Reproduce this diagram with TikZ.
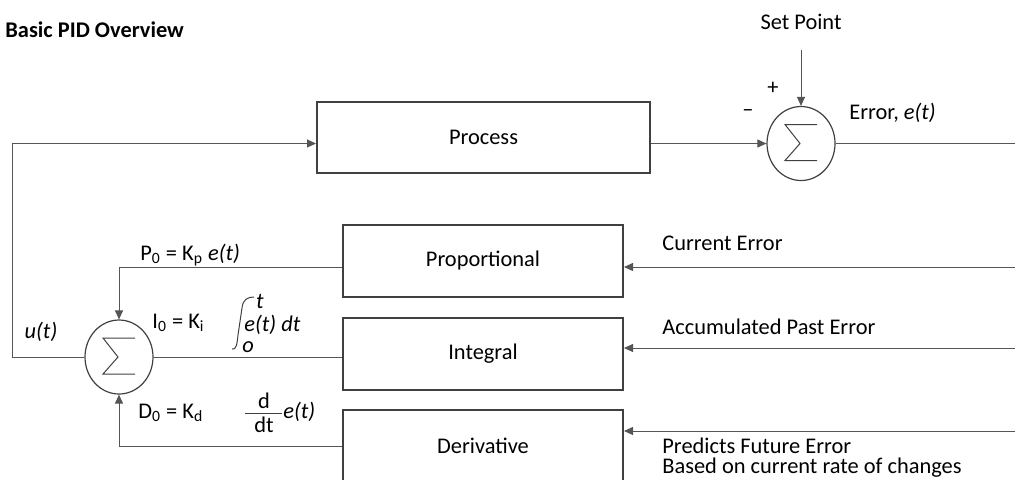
\documentclass[tikz,border=0pt]{standalone}
\usepackage{fontspec}
\setmainfont{Carlito}
\usetikzlibrary{calc, arrows.meta, shapes.geometric}
\definecolor{boxFrame}{HTML}{404040}
\definecolor{wire}{HTML}{555555}

\tikzset{
    txt/.style={font=\fontsize{11.2}{13}\selectfont, inner sep=0pt},
    block/.style={draw=boxFrame, line width=1pt, minimum width=#1, minimum height=36pt, txt},
    summer/.style={draw=boxFrame, line width=0.6pt, ellipse, minimum width=34pt, minimum height=37pt, inner sep=0pt},
    conn/.style={draw=wire, line width=0.5pt},
    arr/.style={conn, -{Triangle[length=4.5pt, width=4pt]}},
}

\newcommand{\sigmamark}[1]{%
    \draw[boxFrame, line width=0.5pt] ($(#1)+(16,-19)$) -- ($(#1)+(-16,-19)$) -- ($(#1)+(-1,0)$)
        -- ($(#1)+(-16,17)$) -- ($(#1)+(16,17)$);}

\begin{document}
\begin{tikzpicture}[x=0.5pt, y=-0.5pt]
    \useasboundingbox (0,0) rectangle (1015,479);

    \node[txt, font=\fontsize{11.2}{13}\selectfont\bfseries, anchor=west] (title) at (5,30) {Basic PID Overview};

    % blocks
    \node[block=166.5pt, minimum height=35.5pt] (proc) at (483.5,137.5) {Process};
    \node[block=140pt] (prop) at (483,261) {Proportional};
    \node[block=140pt] (intg) at (483,354) {Integral};
    \node[block=140pt] (deriv) at (483,446) {Derivative};

    % summing junctions
    \node[summer] (esum) at (801,143.5) {};
    \node[summer] (usum) at (119,357) {};
    \foreach \s in {esum, usum} {\sigmamark{\s}}

    % loose ends
    \coordinate (spin) at (801,50);
    \coordinate (eout) at (1015,143.5);
    \coordinate (fb) at (12,143.5);
    \coordinate (pin) at (1015,267);
    \coordinate (iin) at (1015,348);
    \coordinate (din) at (1015,431);

    % connectors
    \draw[arr] (usum.west) -| (fb) -- ($(proc.west)+(0,6)$);
    \draw[arr] ($(proc.east)+(0,6)$) -- (esum.west);
    \draw[arr] (spin) -- (esum.north);
    \draw[conn] (esum.east) -- (eout);
    \draw[arr] ($(prop.west)+(0,6)$) -| (usum.north);
    \draw[conn] (usum.east) -- (usum.east -| intg.west);
    \draw[arr] (deriv.west) -| (usum.south);
    \draw[arr] (pin) -- (pin -| prop.east);
    \draw[arr] (iin) -- (iin -| intg.east);
    \draw[arr] (din) -- (din -| deriv.east);

    % labels
    \node[txt] (sptxt) at (801,22) {Set Point};
    \node[txt] (plus) at (773,88) {+};
    \node[txt] (minus) at (748,113) {--};
    \node[txt, anchor=west] (errtxt) at (849,113) {Error, \textit{e(t)}};
    \node[txt] (utxt) at (41,332) {\textit{u(t)}};

    \node[txt, anchor=west] (ptxt) at (140,255) {P\textsubscript{0} = K\textsubscript{p} \textit{e(t)}};
    \node[txt, anchor=west] (itxt) at (152,323) {I\textsubscript{0} = K\textsubscript{i}};
    \node[txt, anchor=west] (dtxt) at (138,413) {D\textsubscript{0} = K\textsubscript{d}};

    % integral term
    \draw[boxFrame, line width=0.5pt] (232,349) .. controls (236,350) and (237,345) .. (238,335)
        -- (242,308) .. controls (243,299) and (248,297) .. (254,297);
    \node[txt] (iup) at (260,301) {\textit{t}};
    \node[txt, anchor=west] (iarg) at (244,325) {\textit{e(t) dt}};
    \node[txt] (ilow) at (248,347) {\textit{o}};

    % derivative term
    \node[txt] (dnum) at (264,401) {d};
    \draw[boxFrame, line width=0.5pt] (245,413) -- (282,413);
    \node[txt] (dden) at (264,425) {dt};
    \node[txt, anchor=west] (darg) at (283,412) {\textit{e(t)}};

    \node[txt, anchor=west] (curr) at (662,243) {Current Error};
    \node[txt, anchor=west] (accu) at (662,327) {Accumulated Past Error};
    \node[txt, anchor=west] (pred) at (662,446) {Predicts Future Error};
    \node[txt, anchor=west] (rate) at (662,468) {Based on current rate of changes};
\end{tikzpicture}
\end{document}
